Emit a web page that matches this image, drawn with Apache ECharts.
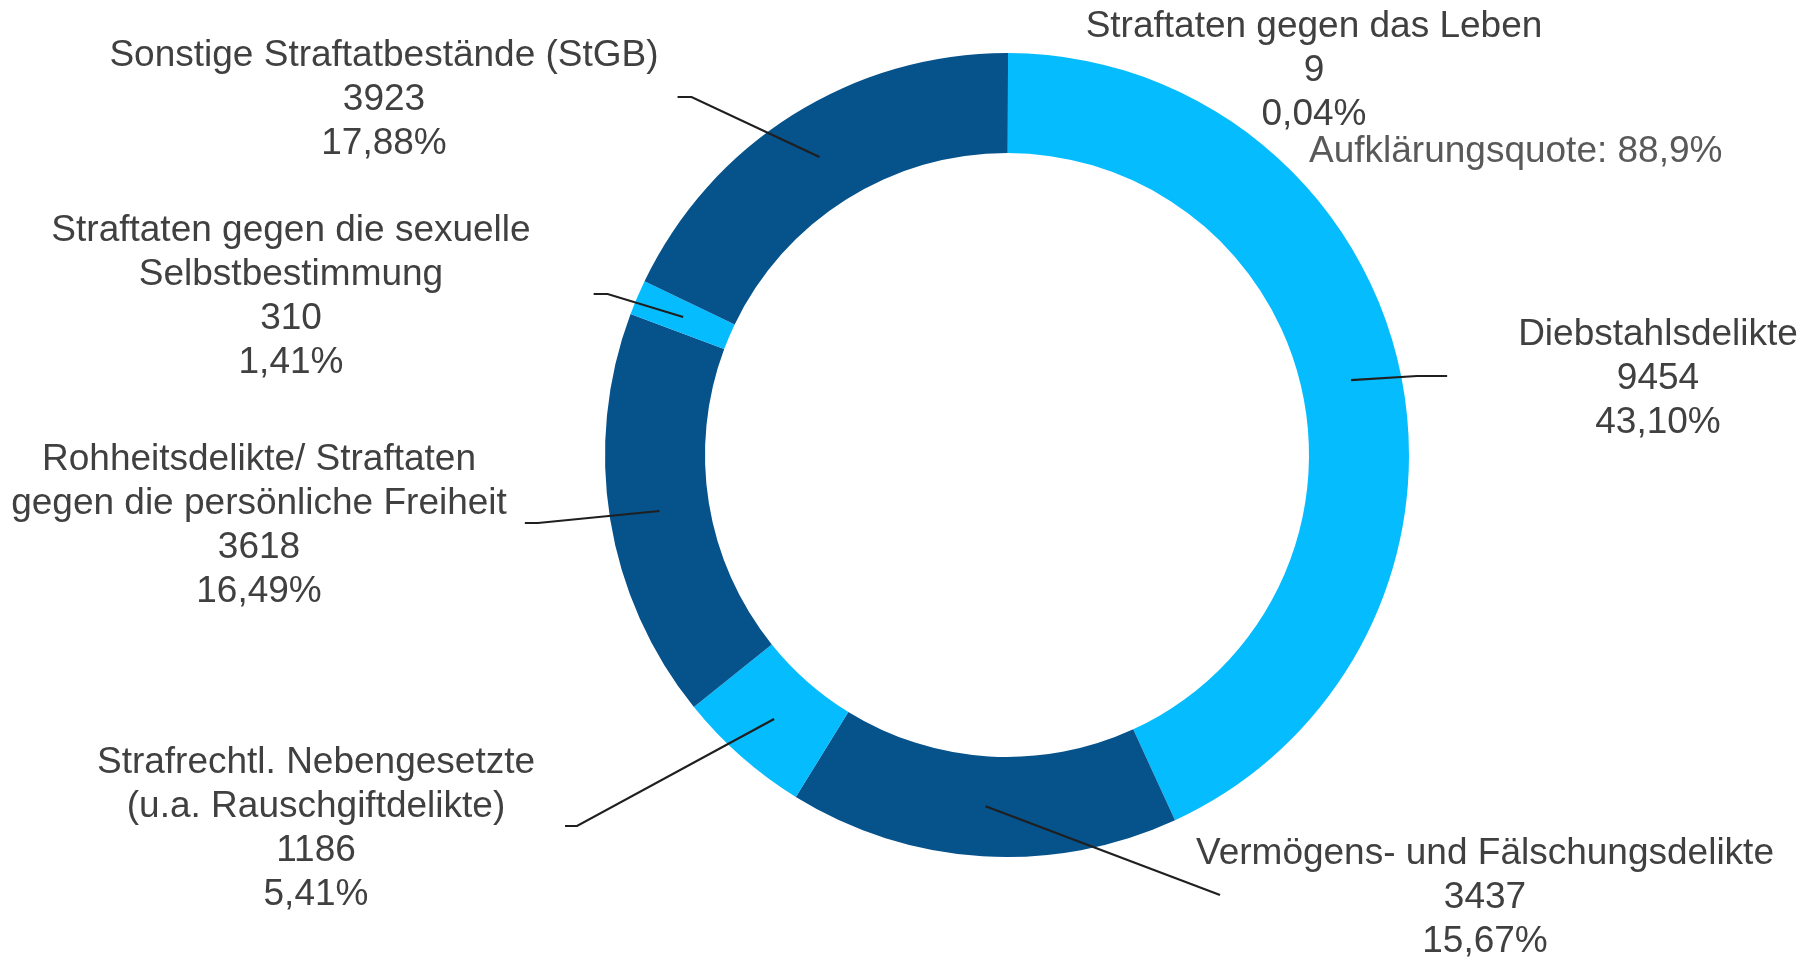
<!DOCTYPE html>
<html>
<head>
<meta charset="utf-8">
<script src="https://cdn.jsdelivr.net/npm/echarts@6/dist/echarts.min.js"></script>
<style>
  html, body { margin: 0; padding: 0; background: #fff; }
  #chart1 { width: 1816px; height: 957px; }
</style>
</head>
<body>
<div id="chart1"></div>
<script>
// Daten (Fallzahlen je Deliktsgruppe)
var categories = [
    'Straftaten gegen das Leben',
    'Diebstahlsdelikte',
    'Vermögens- und Fälschungsdelikte',
    'Strafrechtl. Nebengesetzte\n(u.a. Rauschgiftdelikte)',
    'Rohheitsdelikte/ Straftaten\ngegen die persönliche Freiheit',
    'Straftaten gegen die sexuelle\nSelbstbestimmung',
    'Sonstige Straftatbestände (StGB)'
];
var caseCounts = [9, 9454, 3437, 1186, 3618, 310, 3923];
var clearanceText = 'Aufklärungsquote: 88,9%';

// Layout der Beschriftungen (Mittelpunkt des Textblocks)
var labelCenters = [[1314, 71], [1658, 379], [1485, 898], [316, 829], [259, 526], [291, 297], [384, 100]];
var leaderGap = [0, 71, -24, 30, 18, 63, 19];   // Abstand Linienende -> Text
var leaderFoot = [0, 30, 0, 12, 13, 14, 14];    // kurzes waagrechtes Stück
var labelOnRight = [true, true, true, false, false, false, false];

var dark = '#06528B';
var light = '#05BCFF';
var palette = [dark, light, dark, light, dark, light, dark];

function drawChart() {
    var myChart = echarts.init(document.getElementById('chart1'));

    var ringData = [];
    var labelData = [];
    for (var i = 0; i < categories.length; i++) {
        ringData.push({ name: categories[i], value: caseCounts[i] });
        var item = { name: categories[i], value: caseCounts[i] };
        if (i == 0) {
            item.labelLine = { show: false };
        }
        labelData.push(item);
    }

    var option = {
        animation: false,
        color: palette,
        title: {
            text: clearanceText,
            left: 1309,
            top: 130,
            padding: 0,
            textStyle: {
                fontFamily: 'Liberation Sans, Arial, sans-serif',
                fontSize: 37,
                fontWeight: 'normal',
                color: '#595959',
                lineHeight: 44
            }
        },
        series: [
            {
                // sichtbarer Ring
                name: 'ring',
                type: 'pie',
                radius: [302, 402],
                center: [1007, 455],
                startAngle: 90,
                clockwise: true,
                silent: true,
                z: 2,
                label: { show: false },
                labelLine: { show: false },
                itemStyle: { borderWidth: 0 },
                data: ringData
            },
            {
                // unsichtbare Scheibe nur für Beschriftung + Führungslinien (Start in Ringmitte)
                name: 'labels',
                type: 'pie',
                radius: [0, 352],
                center: [1007, 455],
                startAngle: 90,
                clockwise: true,
                silent: true,
                z: 5,
                avoidLabelOverlap: false,
                itemStyle: { color: 'rgba(0,0,0,0)', borderWidth: 0 },
                label: {
                    show: true,
                    position: 'outside',
                    fontFamily: 'Liberation Sans, Arial, sans-serif',
                    fontSize: 37,
                    lineHeight: 44,
                    color: '#404040',
                    formatter: function (p) {
                        return p.name + '\n' + p.value + '\n' + p.percent.toFixed(2).replace('.', ',') + '%';
                    }
                },
                labelLine: {
                    show: true,
                    length: 10,
                    length2: 10,
                    lineStyle: { color: '#1f1f1f', width: 2.2 }
                },
                labelLayout: function (params) {
                    var i = params.dataIndex;
                    var pos = labelCenters[i];
                    var res = { x: pos[0], y: pos[1], align: 'center', verticalAlign: 'middle' };
                    var pts = params.labelLinePoints;
                    if (i > 0 && pts && pts.length) {
                        var w = params.labelRect.width;
                        var endX, bendX;
                        if (labelOnRight[i]) {
                            endX = pos[0] - w / 2 - leaderGap[i];
                            bendX = endX - leaderFoot[i];
                        } else {
                            endX = pos[0] + w / 2 + leaderGap[i];
                            bendX = endX + leaderFoot[i];
                        }
                        res.labelLinePoints = [pts[0], [bendX, pos[1] - 3], [endX, pos[1] - 3]];
                    }
                    return res;
                },
                data: labelData
            }
        ]
    };

    myChart.setOption(option);
}

drawChart();
</script>
</body>
</html>
